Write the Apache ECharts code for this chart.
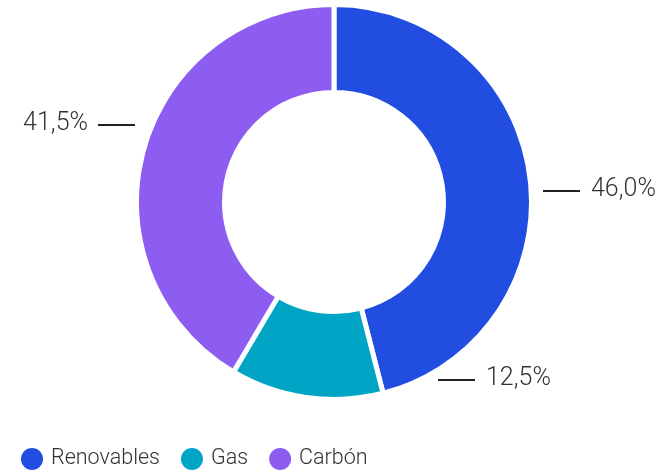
<!DOCTYPE html>
<html><head><meta charset="utf-8">
<script src="https://cdn.jsdelivr.net/npm/echarts@6/dist/echarts.min.js"></script>
<style>html,body{margin:0;padding:0;background:#fff}#c{width:672px;height:470px}</style>
</head><body><div id="c"></div>
<script>
const categories = ['Renovables', 'Gas', 'Carbón'];
const values = [46.0, 12.5, 41.5];
const colors = ['#214ee0', '#00a5c6', '#8d5cf0'];

const FONT = 'Roboto';
const labelSpots = [
  {x: 591, y: 190, align: 'left', line: [[543, 191], [580, 191]]},
  {x: 486, y: 379, align: 'left', line: [[438, 380], [475, 380]]},
  {x: 88, y: 124, align: 'right', line: [[98, 125], [135, 125]]}
];

const chart = echarts.init(document.getElementById('c'));
chart.setOption({
  animation: false,
  legend: {
    left: 16, top: 443,
    icon: 'circle', itemWidth: 22, itemHeight: 22, itemGap: 21,
    itemStyle: {borderWidth: 0},
    textStyle: {fontFamily: FONT, fontWeight: 300, fontSize: 21.5, color: '#333', padding: [0, 0, 0, 3]},
    data: categories
  },
  series: [{
    type: 'pie',
    center: [334, 202],
    radius: [109.5, 197.5],
    startAngle: 90,
    clockwise: true,
    itemStyle: {borderColor: '#fff', borderWidth: 5},
    label: {
      show: true,
      fontFamily: FONT, fontWeight: 300, fontSize: 25, color: '#333',
      formatter: p => p.value.toFixed(1).replace('.', ',') + '%'
    },
    labelLine: {show: true, lineStyle: {color: '#222', width: 2}},
    labelLayout: function (p) {
      const s = labelSpots[p.dataIndex];
      return {x: s.x, y: s.y, align: s.align, verticalAlign: 'middle', labelLinePoints: s.line};
    },
    data: categories.map((c, i) => ({name: c, value: values[i], itemStyle: {color: colors[i]}}))
  }]
});
</script>
</body></html>
